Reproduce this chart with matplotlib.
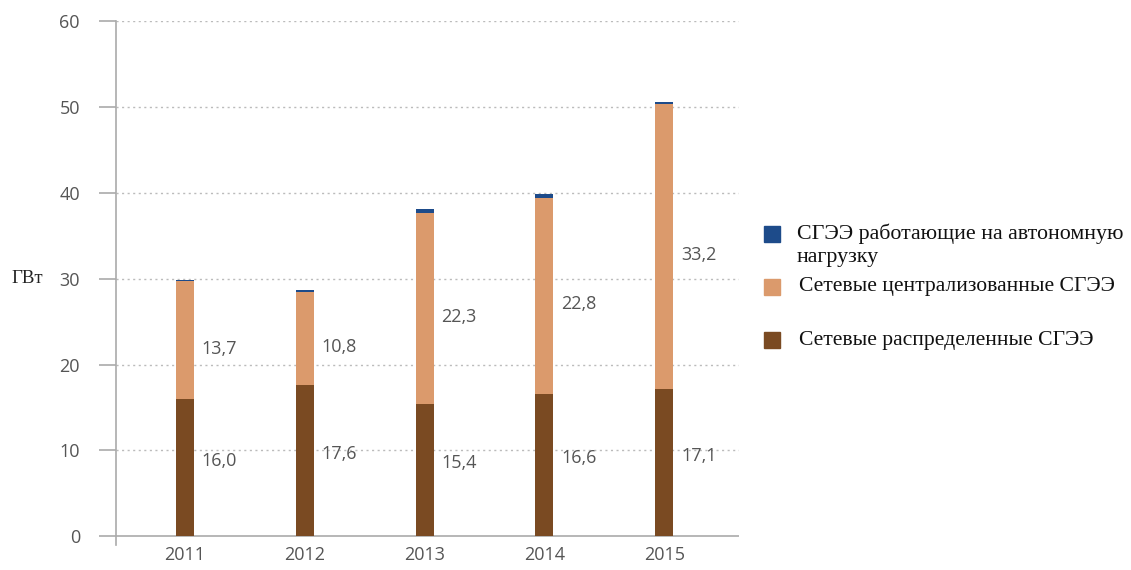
import numpy as np
import matplotlib.pyplot as plt
from matplotlib.patches import Rectangle

# Data
years = ['2011', '2012', '2013', '2014', '2015']
distributed = [16.0, 17.6, 15.4, 16.6, 17.1]      # Сетевые распределенные СГЭЭ
centralized = [13.7, 10.8, 22.3, 22.8, 33.2]      # Сетевые централизованные СГЭЭ
autonomous = [0.15, 0.3, 0.4, 0.5, 0.25]          # СГЭЭ работающие на автономную нагрузку

legend_labels = ['СГЭЭ работающие на автономную\nнагрузку',
                 'Сетевые централизованные СГЭЭ',
                 'Сетевые распределенные СГЭЭ']

c_brown = '#7a4a22'
c_orange = '#db9a6c'
c_blue = '#1d4b8a'
grey = '#555555'
sans = 'Open Sans'

fig = plt.figure(figsize=(11.31, 5.70), dpi=100)
ax = fig.add_axes([0.1026, 0.0439, 0.551, 0.9193])

x = np.arange(len(years))
w = 0.15
dist = np.array(distributed)
cent = np.array(centralized)
auto = np.array(autonomous)

ax.bar(x, dist, w, color=c_brown, zorder=3)
ax.bar(x, cent, w, bottom=dist, color=c_orange, zorder=3)
ax.bar(x, auto, w, bottom=dist + cent, color=c_blue, zorder=3)

# value labels to the right of each bar
for i in range(len(years)):
    ax.text(x[i] + 0.14, dist[i] / 2 + 0.8, f'{dist[i]:.1f}'.replace('.', ','),
            ha='left', va='center', fontsize=13, color=grey, family=sans, zorder=4)
    ax.text(x[i] + 0.14, dist[i] + cent[i] / 2 - 1.0, f'{cent[i]:.1f}'.replace('.', ','),
            ha='left', va='center', fontsize=13, color=grey, family=sans, zorder=4)

ax.set_xlim(-0.575, 4.625)
ax.set_ylim(-1, 60)
ax.set_yticks(range(0, 61, 10))
ax.set_xticks(x)
ax.set_xticklabels(years)

for yv in range(10, 61, 10):
    ax.axhline(yv, color='#bbbbbb', linestyle=(0, (1.5, 2.5)), linewidth=1, zorder=1)
ax.axhline(0, color='#aaaaaa', linewidth=1.2, zorder=2)

for s in ['top', 'right', 'bottom']:
    ax.spines[s].set_visible(False)
ax.spines['left'].set_color('#aaaaaa')
ax.spines['left'].set_linewidth(1.2)
ax.tick_params(axis='y', length=12, width=1.2, color='#aaaaaa', labelsize=13,
               labelcolor=grey, pad=14)
ax.tick_params(axis='x', length=0, labelsize=13, labelcolor=grey, pad=1)
for lab in ax.get_xticklabels() + ax.get_yticklabels():
    lab.set_family(sans)

fig.text(0.010, 0.512, 'ГВт', family='Liberation Serif', fontsize=13.5,
         color='#222222', ha='left', va='center')

# legend drawn by hand (uneven spacing in the reference)
leg_y = [234, 287, 340]
leg_col = [c_blue, c_orange, c_brown]
H, W = 570, 1131
for yy, col, lab in zip(leg_y, leg_col, legend_labels):
    fig.add_artist(Rectangle((764 / W, (H - yy - 8) / H), 16 / W, 16 / H,
                             transform=fig.transFigure, color=col))
    if '\n' in lab:
        fig.text(797 / W, (H - yy + 11) / H, lab, family='Liberation Serif',
                 fontsize=15.8, color='#111111', ha='left', va='top', linespacing=1.32)
    else:
        fig.text(799 / W, (H - yy) / H, lab, family='Liberation Serif',
                 fontsize=15.6, color='#111111', ha='left', va='center')

fig.savefig('out.png', dpi=100)
